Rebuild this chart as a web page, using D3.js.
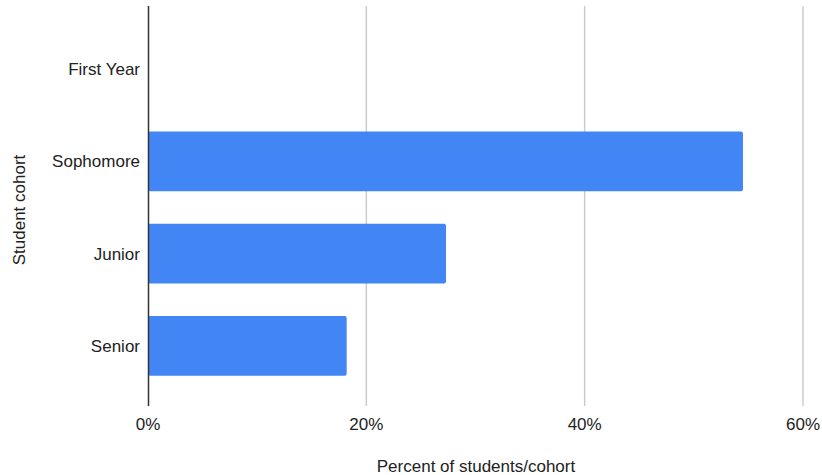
<!DOCTYPE html>
<html>
<head>
<meta charset="utf-8">
<script src="https://cdn.jsdelivr.net/npm/d3@7"></script>
<style>
  html, body { margin: 0; padding: 0; background: #fff; }
  text { font-family: "Liberation Sans", Arial, sans-serif; fill: #222; }
</style>
</head>
<body>
<svg id="chart" width="822" height="475"></svg>
<script>
// Share of students per cohort (percent)
const cohorts = ["First Year", "Sophomore", "Junior", "Senior"];
const percents = [0, 54.5, 27.3, 18.2];
const xTicks = [0, 20, 40, 60];

const svg = d3.select("#chart");
const plotLeft = 148, plotRight = 803, plotTop = 6, plotBottom = 406;
const fontSize = "17px";

const x = d3.scaleLinear().domain([0, 60]).range([plotLeft, plotRight]);
const y = d3.scaleBand().domain(cohorts).range([23, 392]).paddingInner(0.35).paddingOuter(0.175);

// vertical gridlines
svg.append("g").selectAll("line")
  .data(xTicks.filter(d => d > 0))
  .join("line")
  .attr("x1", d => x(d)).attr("x2", d => x(d))
  .attr("y1", plotTop).attr("y2", plotBottom)
  .attr("stroke", "#cccccc").attr("stroke-width", 1.5);

// bars
svg.append("g").selectAll("rect")
  .data(cohorts.map((c, i) => ({ c, v: percents[i] })).filter(d => d.v > 0))
  .join("rect")
  .attr("x", x(0))
  .attr("y", d => y(d.c))
  .attr("width", d => x(d.v) - x(0))
  .attr("height", y.bandwidth())
  .attr("rx", 2)
  .attr("fill", "#4285f4");

// baseline axis
svg.append("line")
  .attr("x1", plotLeft + 0.5).attr("x2", plotLeft + 0.5)
  .attr("y1", plotTop).attr("y2", plotBottom)
  .attr("stroke", "#333").attr("stroke-width", 1.5);

// x tick labels
svg.append("g").selectAll("text")
  .data(xTicks)
  .join("text")
  .attr("x", d => x(d))
  .attr("y", 430)
  .attr("text-anchor", "middle")
  .style("font-size", fontSize)
  .text(d => d + "%");

// y category labels
svg.append("g").selectAll("text")
  .data(cohorts)
  .join("text")
  .attr("x", 140)
  .attr("y", d => y(d) + y.bandwidth() / 2)
  .attr("dy", "0.35em")
  .attr("text-anchor", "end")
  .style("font-size", fontSize)
  .text(d => d);

// axis titles
svg.append("text")
  .attr("x", 476).attr("y", 472)
  .attr("text-anchor", "middle")
  .style("font-size", fontSize)
  .text("Percent of students/cohort");

svg.append("text")
  .attr("transform", "translate(25,210) rotate(-90)")
  .attr("text-anchor", "middle")
  .style("font-size", fontSize)
  .text("Student cohort");
</script>
</body>
</html>
